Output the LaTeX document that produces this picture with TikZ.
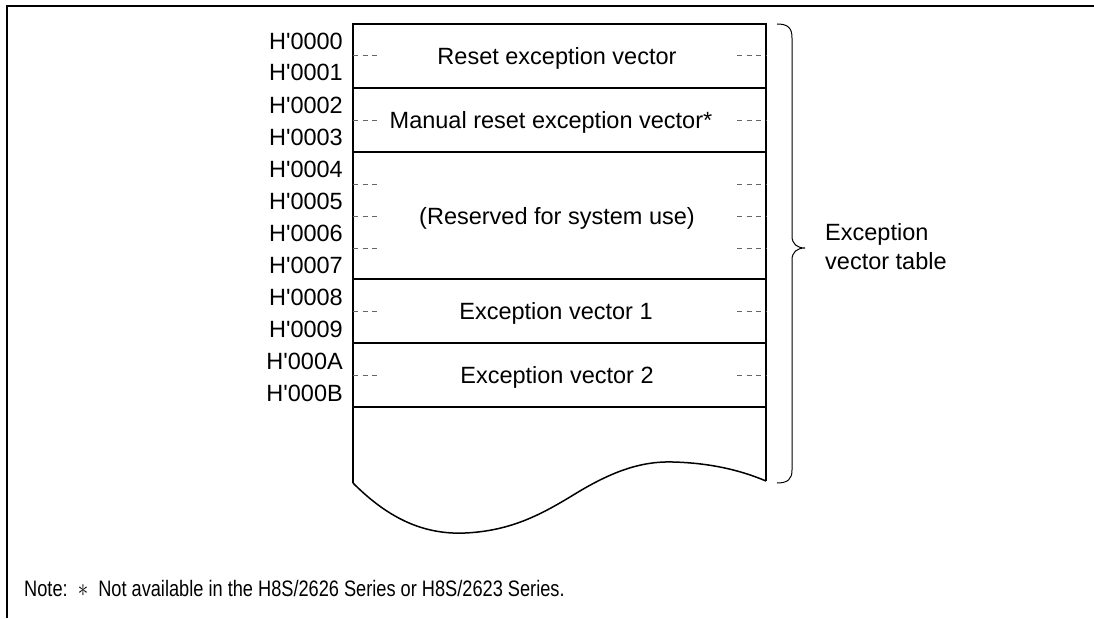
\documentclass[tikz,border=0pt]{standalone}
\usepackage{graphicx}
\usepackage{fontspec}
\setmainfont{Liberation Sans}
\begin{document}
\begin{tikzpicture}[x=1pt,y=-1pt,
  frame/.style={line width=1.4pt},
  boxline/.style={line width=1.5pt},
  dsh/.style={black!60, line width=1pt, dash pattern=on 5pt off 4.5pt},
  bigfont/.style={font=\fontsize{23.5}{28}\selectfont},
  addr/.style={bigfont, anchor=base east, inner sep=0pt},
  lbl/.style={bigfont, anchor=base, inner sep=0pt},
  side/.style={bigfont, anchor=base west, inner sep=0pt},
  bracepath/.style={line width=1pt}]
\useasboundingbox (0,0) rectangle (1094,618);
% frame
\draw[frame] (7,618) -- (7,6) -- (1094,6);
% box corners
\coordinate (tl) at (353,24);
\coordinate (tr) at (766,24);
\coordinate (bl) at (353,483);
\coordinate (br) at (766,481);
\draw[boxline] (bl) -- (tl) -- (tr) -- (br);
\draw[boxline] (bl) .. controls (385,515) and (420,535) .. (465,533)
  .. controls (510,531) and (540,515) .. (570,497)
  .. controls (610,472) and (640,461) .. (673,462)
  .. controls (710,463) and (740,470) .. (br);
\foreach \y in {88,152,279,343,407}
  \draw[boxline] (353,\y) -- (766,\y);
% dashes
\foreach \y in {56,120,184,216,248,311,375} {
  \draw[dsh] (353,\y) -- (381,\y);
  \draw[dsh] (737,\y) -- (766,\y);
}
% addresses
\foreach \t [count=\i from 0] in {0000,0001,0002,0003,0004,0005,0006,0007,0008,0009,000A,000B}
  \node[addr] (a\i) at (343,49+32*\i) {H\textquotesingle\t};
% row texts
\node[lbl] (r1) at (557,64) {Reset exception vector};
\node[lbl] (r2) at (551,128) {Manual reset exception vector*};
\node[lbl] (r3) at (557,224) {(Reserved for system use)};
\node[lbl] (r4) at (556,319) {Exception vector 1};
\node[lbl] (r5) at (557,383) {Exception vector 2};
% brace
\draw[bracepath] (777,24) .. controls (788,24) and (792,28) .. (792,38)
  -- (792,236) .. controls (792,244) and (797,248) .. (805,248)
  .. controls (797,248) and (792,252) .. (792,260)
  -- (792,470) .. controls (792,479) and (788,483) .. (777,483);
\node[side] (t1) at (825,240) {Exception};
\node[side] (t2) at (825,269) {vector table};
% note
\node[anchor=base west, inner sep=0pt, font=\fontsize{18.2}{22}\selectfont] (note) at (24,596)
  {\scalebox{1}[1.23]{Note:\ \ {\fontsize{22}{22}\selectfont$\ast$}\ \ Not available in the H8S/2626 Series or H8S/2623 Series.}};
\end{tikzpicture}
\end{document}
